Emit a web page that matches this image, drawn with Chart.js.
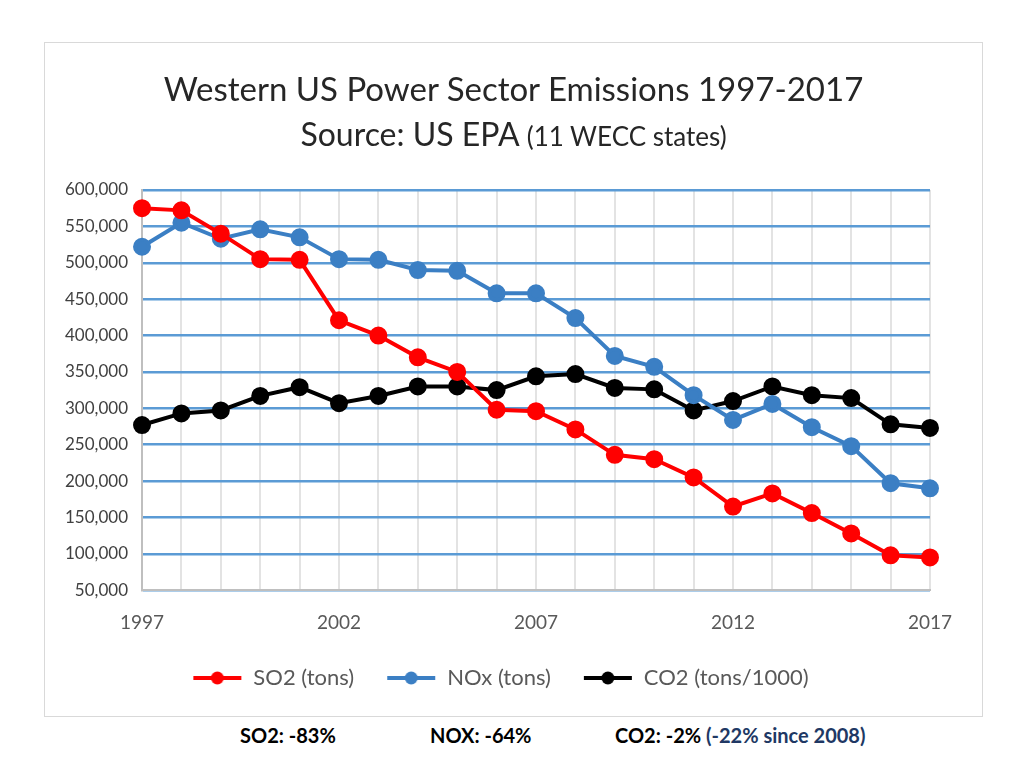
<!DOCTYPE html>
<html>
<head>
<meta charset="utf-8">
<script src="https://cdn.jsdelivr.net/npm/chart.js@4"></script>
<style>
    body { margin: 0; background: #fff; font-family: Lato, "Open Sans", sans-serif; }
    #frame { position: absolute; left: 44px; top: 42px; width: 937px; height: 673px; border: 1px solid #d9d9d9; }
    #title { position: absolute; left: 0; width: 100%; top: 25px; text-align: center; font-size: 33px; color: #262626; }
    #subtitle { position: absolute; left: 0; width: 100%; top: 71px; text-align: center; font-size: 32px; color: #262626; }
    #subtitle small { font-size: 26px; }
    #chartBox { position: absolute; left: 0; top: 0; width: 937px; height: 673px; }
    .note { position: absolute; top: 723px; font-size: 20px; font-weight: bold; color: #000; }
</style>
</head>
<body>
<div id="frame">
    <div id="chartBox"><canvas id="emissions"></canvas></div>
    <div id="title">Western US Power Sector Emissions 1997-2017</div>
    <div id="subtitle">Source: US EPA <small>(11 WECC states)</small></div>
</div>
<div class="note" style="left:240px">SO2: -83%</div>
<div class="note" style="left:430px">NOX: -64%</div>
<div class="note" style="left:615px">CO2: -2% <span style="color:#203864">(-22% since 2008)</span></div>

<script>
const years = ['1997', '1998', '1999', '2000', '2001', '2002', '2003', '2004', '2005', '2006', '2007',
    '2008', '2009', '2010', '2011', '2012', '2013', '2014', '2015', '2016', '2017'];

const so2Tons = [575000, 572000, 540000, 505000, 504000, 421000, 400000, 370000, 350000, 298000, 296000,
    271000, 236000, 230000, 205000, 165000, 183000, 156000, 128000, 98000, 95000];

const noxTons = [522000, 555000, 533000, 546000, 535000, 505000, 504000, 490000, 489000, 458000, 458000,
    424000, 372000, 357000, 318000, 284000, 306000, 274000, 248000, 197000, 190000];

const co2Tons = [277000, 293000, 297000, 317000, 329000, 307000, 317000, 330000, 330000, 325000, 344000,
    347000, 328000, 326000, 297000, 310000, 330000, 318000, 314000, 278000, 273000];

const seriesNames = ['SO2 (tons)', 'NOx (tons)', 'CO2 (tons/1000)'];
const seriesColors = ['#ff0000', '#3b7fc4', '#000000'];

// legend sample: short line with a dot, left part kept empty as spacing between items
function legendIcon(color) {
    const c = document.createElement('canvas');
    c.width = 70;
    c.height = 16;
    const ctx = c.getContext('2d');
    ctx.strokeStyle = color;
    ctx.lineWidth = 4;
    ctx.beginPath();
    ctx.moveTo(21, 8);
    ctx.lineTo(69, 8);
    ctx.stroke();
    ctx.fillStyle = color;
    ctx.beginPath();
    ctx.arc(45, 8, 6.5, 0, Math.PI * 2);
    ctx.fill();
    return c;
}

const dataArrays = [so2Tons, noxTons, co2Tons];

new Chart(document.getElementById('emissions'), {
    type: 'line',
    data: {
        labels: years,
        datasets: dataArrays.map((values, i) => ({
            label: seriesNames[i],
            data: values,
            borderColor: seriesColors[i],
            backgroundColor: seriesColors[i],
            borderWidth: 4,
            pointRadius: 7,
            pointHoverRadius: 7,
            tension: 0,
            fill: false
        }))
    },
    options: {
        responsive: true,
        maintainAspectRatio: false,
        animation: false,
        layout: {
            padding: { top: 147, right: 52, left: 6, bottom: 17 }
        },
        scales: {
            x: {
                type: 'category',
                offset: false,
                grid: { color: '#e3e3e3', lineWidth: 2, drawTicks: false },
                border: { color: '#bfbfbf', width: 2 },
                ticks: {
                    autoSkip: false,
                    maxRotation: 0,
                    padding: 21,
                    color: '#595959',
                    font: { family: 'Lato', size: 19 },
                    callback: function (value, index) {
                        return index % 5 === 0 ? years[index] : '';
                    }
                }
            },
            y: {
                min: 50000,
                max: 600000,
                grid: { color: '#5b9bd5', lineWidth: 2.5, drawTicks: false },
                border: { color: '#bfbfbf', width: 2 },
                ticks: {
                    stepSize: 50000,
                    padding: 14,
                    color: '#404040',
                    font: { family: 'Lato', size: 17 },
                    callback: function (value) {
                        return value.toLocaleString('en-US');
                    }
                }
            }
        },
        plugins: {
            legend: {
                position: 'bottom',
                labels: {
                    usePointStyle: true,
                    pointStyleWidth: 70,
                    padding: 12,
                    color: '#595959',
                    font: { family: 'Lato', size: 22 },
                    generateLabels: function (chart) {
                        return chart.data.datasets.map((ds, i) => ({
                            text: ds.label,
                            pointStyle: legendIcon(seriesColors[i]),
                            fontColor: '#595959',
                            strokeStyle: seriesColors[i],
                            fillStyle: seriesColors[i],
                            datasetIndex: i
                        }));
                    }
                }
            },
            tooltip: { enabled: false }
        }
    }
});
</script>
</body>
</html>
